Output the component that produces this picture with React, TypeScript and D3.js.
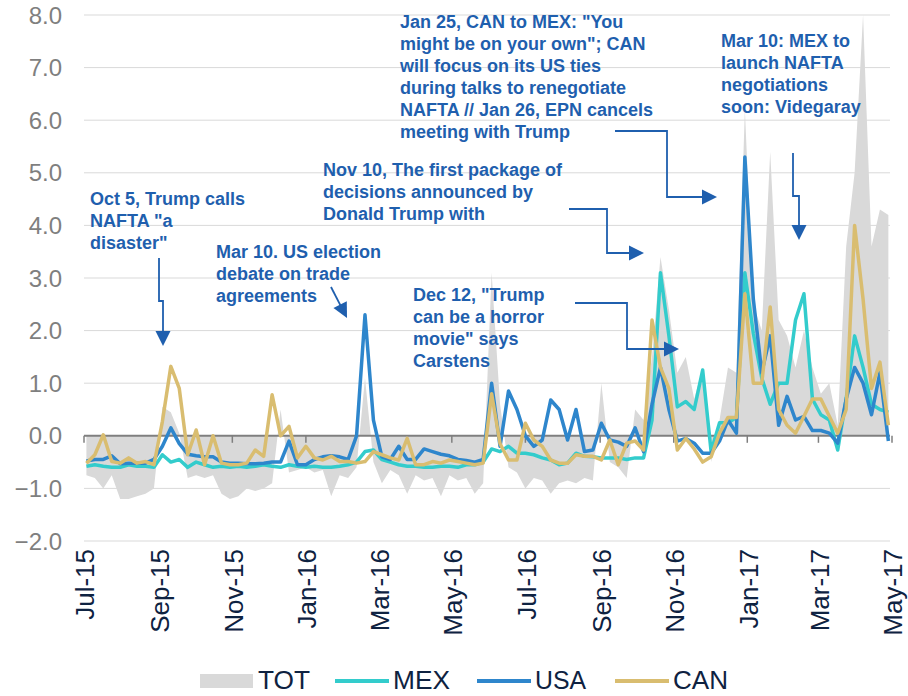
import React, { useEffect, useRef } from "react";
import * as d3 from "d3";

// weekly observations, first one on 3 Jul 2015
const firstWeek = new Date(2015, 6, 3);
const weekCount = 96;

const tot = [
  -0.75, -0.8, -1.0, -0.75, -1.2, -1.2, -1.15, -1.1, -1.0, 0.55, 0.45, 0.05,
  -0.8, -0.75, -0.8, -0.75, -1.1, -1.2, -1.15, -1.0, -1.05, -1.0, -0.9, 0.5,
  -0.7, -0.65, -0.6, -0.7, -0.65, -1.15, -0.75, -0.8, -0.6, 1.1, -0.5, -0.9,
  -0.65, -0.75, -1.1, -0.75, -0.85, -0.8, -1.15, -0.75, -0.85, -0.8, -1.1, -0.9,
  3.1, 0.6, -0.6, -0.7, -1.0, -0.8, -0.85, -1.1, -0.9, -0.85, -0.9, -0.8,
  -0.85, 1.0, -0.5, -0.6, -0.8, 0.5, 0.3, 1.5, 3.4, 2.4, 1.2, 1.5,
  0.7, 1.3, -0.5, 0.3, 1.3, 1.2, 6.2, 2.5, 2.0, 5.4, 2.2, 1.9,
  1.3, 2.0, 1.3, 0.8, 1.0, 0.2, 3.6, 5.0, 8.0, 3.6, 4.3, 4.2,
];

const mex = [
  -0.58, -0.55, -0.58, -0.6, -0.6, -0.55, -0.58, -0.58, -0.6, -0.36, -0.5, -0.45,
  -0.6, -0.5, -0.55, -0.6, -0.58, -0.6, -0.58, -0.6, -0.58, -0.55, -0.58, -0.6,
  -0.55, -0.58, -0.6, -0.58, -0.6, -0.6, -0.58, -0.55, -0.5, -0.3, -0.27, -0.45,
  -0.5, -0.55, -0.58, -0.58, -0.6, -0.6, -0.58, -0.58, -0.6, -0.55, -0.55, -0.5,
  -0.25, -0.3, -0.2, -0.33, -0.33, -0.36, -0.42, -0.46, -0.55, -0.52, -0.33, -0.39,
  -0.4, -0.42, -0.42, -0.42, -0.45, -0.42, -0.42, 0.3, 3.1, 1.9, 0.55, 0.65,
  0.5, 1.25, -0.3, 0.25, 0.25, 0.35, 3.1, 1.95, 1.1, 0.6, 1.0, 1.0,
  2.2, 2.7, 0.7, 0.4, 0.3, -0.27, 0.7, 1.9, 1.3, 0.6, 0.5, 0.45,
];

const usa = [
  -0.48, -0.45, -0.45, -0.38, -0.53, -0.52, -0.52, -0.52, -0.45, -0.2, 0.15, -0.15,
  -0.35, -0.38, -0.4, -0.4, -0.5, -0.52, -0.52, -0.53, -0.53, -0.52, -0.5, -0.5,
  -0.1, -0.55, -0.55, -0.45, -0.4, -0.38, -0.4, -0.45, 0.0, 2.3, 0.3, -0.4,
  -0.45, -0.2, -0.45, -0.45, -0.25, -0.3, -0.35, -0.38, -0.45, -0.47, -0.5, -0.45,
  1.0, -0.2, 0.85, 0.5, 0.0, -0.2, -0.08, 0.68, 0.5, -0.08, 0.5, -0.3,
  -0.27, 0.24, -0.08, -0.12, -0.2, 0.15, -0.3, 0.6, 1.3, 0.5, -0.1, -0.05,
  -0.14, -0.33, -0.33, -0.1, 0.3, 0.05, 5.3, 2.6, 1.2, 1.9, 0.2, 0.75,
  0.3, 0.37, 0.1, 0.1, 0.05, -0.14, 0.7, 1.3, 1.0, 0.4, 1.2, -0.1,
];

const can = [
  -0.52, -0.36, 0.02, -0.49, -0.52, -0.42, -0.52, -0.49, -0.55, 0.27, 1.32, 0.9,
  -0.36, 0.11, -0.55, 0.0, -0.52, -0.55, -0.55, -0.52, -0.27, -0.39, 0.78, 0.0,
  0.18, -0.42, -0.2, -0.42, -0.46, -0.39, -0.49, -0.49, -0.52, -0.49, -0.3, -0.36,
  -0.42, -0.46, -0.05, -0.55, -0.55, -0.49, -0.52, -0.46, -0.49, -0.52, -0.55, -0.52,
  0.8, -0.15, -0.46, -0.46, 0.24, -0.08, -0.2, -0.46, -0.52, -0.52, -0.36, -0.39,
  -0.39, -0.46, -0.08, -0.55, -0.14, -0.1, -0.27, 2.2, 1.3, 0.9, -0.27, -0.05,
  -0.25, -0.5, -0.4, 0.05, 0.35, 0.35, 2.7, 1.0, 1.0, 2.45, 0.5, 0.2,
  0.05, 0.37, 0.7, 0.7, 0.37, 0.05, 0.5, 4.0, 2.6, 0.9, 1.4, 0.2,
];

const yTicks = [-2, -1, 0, 1, 2, 3, 4, 5, 6, 7, 8];

const lineSeries = [
  { name: "MEX", values: mex, color: "#33cccc" },
  { name: "USA", values: usa, color: "#2e86cc" },
  { name: "CAN", values: can, color: "#d9bd70" },
];

// annotation texts (pixel positions of the first baseline)
const notes = [
  { x: 90, y: 205, lines: ["Oct 5, Trump calls", 'NAFTA "a', 'disaster"'] },
  { x: 216, y: 258, lines: ["Mar 10. US election", "debate on trade", "agreements"] },
  { x: 323, y: 176, lines: ["Nov 10, The first package of", "decisions announced by", "Donald Trump with"] },
  { x: 413, y: 301, lines: ['Dec 12, "Trump', "can be a horror", 'movie" says', "Carstens"] },
  {
    x: 400,
    y: 28,
    lines: [
      'Jan 25, CAN to MEX: "You',
      'might be on your own"; CAN',
      "will focus on its US ties",
      "during talks to renegotiate",
      "NAFTA // Jan 26, EPN cancels",
      "meeting with Trump",
    ],
  },
  { x: 721, y: 47, lines: ["Mar 10: MEX to", "launch NAFTA", "negotiations", "soon: Videgaray"] },
];

const arrows: [number, number][][] = [
  [[159, 258], [159, 301], [163, 301], [163, 346]],
  [[331, 287], [347, 318]],
  [[569, 209], [607, 209], [607, 253], [644, 253]],
  [[575, 303], [627, 303], [627, 349], [679, 349]],
  [[615, 131], [667, 131], [667, 197], [717, 197]],
  [[793, 153], [793, 196], [799, 196], [799, 240]],
];

const legendItems = [
  { name: "TOT", color: "#d9d9d9", x0: 200, box: true, textW: 52 },
  { name: "MEX", color: "#33cccc", x0: 335, box: false, textW: 57 },
  { name: "USA", color: "#2e86cc", x0: 477, box: false, textW: 51 },
  { name: "CAN", color: "#d9bd70", x0: 615, box: false, textW: 55 },
];

const W = 908;
const H = 696;
const noteColor = "#1f5fae";

const App: React.FC = () => {
  const svgRef = useRef<SVGSVGElement | null>(null);

  useEffect(() => {
    if (!svgRef.current) return;
    const svg = d3.select(svgRef.current);
    svg.selectAll("*").remove();

    const dates = d3.range(weekCount).map((i) => d3.timeDay.offset(firstWeek, i * 7));

    const x = d3
      .scaleTime()
      .domain([new Date(2015, 6, 1), new Date(2017, 4, 1)])
      .range([84, 892]);
    const y = d3.scaleLinear().domain([-2, 8]).range([541, 15]);
    const left = 84;
    const right = 890;

    // horizontal grid
    svg
      .append("g")
      .selectAll("line")
      .data(yTicks.filter((d) => d !== 0))
      .enter()
      .append("line")
      .attr("x1", left)
      .attr("x2", right)
      .attr("y1", (d) => y(d))
      .attr("y2", (d) => y(d))
      .style("stroke", "#d9d9d9")
      .style("stroke-width", 1);

    // y labels
    svg
      .append("g")
      .selectAll("text")
      .data(yTicks)
      .enter()
      .append("text")
      .attr("x", 62)
      .attr("y", (d) => y(d))
      .attr("dy", "0.36em")
      .attr("text-anchor", "end")
      .style("font-family", "'Liberation Sans', Arial, sans-serif")
      .style("font-size", "24px")
      .style("fill", "#7f7f7f")
      .text((d) => d3.format(".1f")(d));

    // TOT area
    const area = d3
      .area<number>()
      .x((d, i) => x(dates[i]))
      .y0(y(0))
      .y1((d) => y(d));
    svg.append("path").datum(tot).attr("d", area).style("fill", "#d9d9d9");

    // zero axis with ticks
    const tickDates = x.ticks(d3.timeMonth.every(2)!);
    svg
      .append("line")
      .attr("x1", left)
      .attr("x2", right)
      .attr("y1", y(0))
      .attr("y2", y(0))
      .style("stroke", "#7f7f7f")
      .style("stroke-width", 2);
    svg
      .append("g")
      .selectAll("line")
      .data(tickDates)
      .enter()
      .append("line")
      .attr("x1", (d) => x(d))
      .attr("x2", (d) => x(d))
      .attr("y1", y(0))
      .attr("y2", y(0) + 7)
      .style("stroke", "#7f7f7f")
      .style("stroke-width", 1.5);

    // x labels (rotated)
    const fmt = d3.timeFormat("%b-%y");
    svg
      .append("g")
      .selectAll("text")
      .data(tickDates)
      .enter()
      .append("text")
      .attr("transform", (d) => `translate(${x(d) + 1},549) rotate(-90)`)
      .attr("dy", "0.36em")
      .attr("text-anchor", "end")
      .style("font-family", "'Liberation Sans', Arial, sans-serif")
      .style("font-size", "26px")
      .style("fill", "#0e2241")
      .text((d) => fmt(d));

    // series lines
    const line = d3
      .line<number>()
      .x((d, i) => x(dates[i]))
      .y((d) => y(d));
    lineSeries.forEach((s) => {
      svg
        .append("path")
        .datum(s.values)
        .attr("d", line)
        .style("fill", "none")
        .style("stroke", s.color)
        .style("stroke-width", 3.5)
        .style("stroke-linejoin", "round");
    });

    // annotations
    notes.forEach((n) => {
      const t = svg
        .append("text")
        .style("font-family", "'Liberation Sans', Arial, sans-serif")
        .style("font-size", "18px")
        .style("font-weight", "bold")
        .style("fill", noteColor);
      n.lines.forEach((l, i) => {
        t.append("tspan").attr("x", n.x).attr("y", n.y + i * 22).text(l);
      });
    });

    arrows.forEach((pts) => {
      const tip = pts[pts.length - 1];
      const prev = pts[pts.length - 2];
      const dx = tip[0] - prev[0];
      const dy = tip[1] - prev[1];
      const len = Math.sqrt(dx * dx + dy * dy);
      const ux = dx / len;
      const uy = dy / len;
      const hl = 15;
      const hw = 7.5;
      const bx = tip[0] - ux * hl;
      const by = tip[1] - uy * hl;
      const shaft = pts.slice(0, -1).concat([[bx + ux, by + uy]]);
      svg
        .append("path")
        .attr("d", d3.line()(shaft as [number, number][]))
        .style("fill", "none")
        .style("stroke", noteColor)
        .style("stroke-width", 1.8);
      svg
        .append("path")
        .attr(
          "d",
          `M${tip[0]},${tip[1]}L${bx - uy * hw},${by + ux * hw}L${bx + uy * hw},${by - ux * hw}Z`
        )
        .style("fill", noteColor);
    });

    // legend
    const lg = svg.append("g");
    legendItems.forEach((it) => {
      if (it.box) {
        lg.append("rect")
          .attr("x", it.x0)
          .attr("y", 674)
          .attr("width", 53)
          .attr("height", 14)
          .style("fill", it.color);
      } else {
        lg.append("line")
          .attr("x1", it.x0)
          .attr("x2", it.x0 + 54)
          .attr("y1", 681)
          .attr("y2", 681)
          .style("stroke", it.color)
          .style("stroke-width", 4);
      }
      lg.append("text")
        .attr("x", it.x0 + 58)
        .attr("y", 689)
        .attr("textLength", it.textW)
        .attr("lengthAdjust", "spacingAndGlyphs")
        .style("font-family", "'Liberation Sans', Arial, sans-serif")
        .style("font-size", "25px")
        .style("fill", "#0e2241")
        .text(it.name);
    });
  }, []);

  return (
    <div>
      <style>{"body{margin:0}"}</style>
      <svg ref={svgRef} width={W} height={H} style={{ display: "block", background: "#fff" }} />
    </div>
  );
};

export default App;
